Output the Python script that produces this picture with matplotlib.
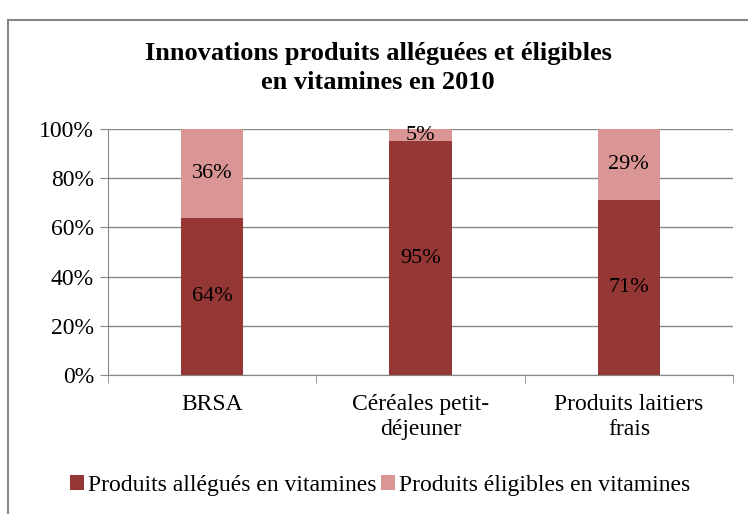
import matplotlib.pyplot as plt
from matplotlib.patches import Rectangle

categories = ["BRSA", "Céréales petit-\ndéjeuner", "Produits laitiers\nfrais"]
alleges = [64, 95, 71]
eligibles = [36, 5, 29]
series_names = ["Produits allégués en vitamines", "Produits éligibles en vitamines"]
title = "Innovations produits alléguées et éligibles\nen vitamines en 2010"

dark = "#953735"
light = "#D99694"
grid = "#878787"

plt.rcParams['font.family'] = ['Liberation Serif', 'DejaVu Serif']

fig = plt.figure(figsize=(7.48, 5.14), dpi=100)
fig.patches.append(Rectangle((8 / 748, -0.01), 1.0, 1 - 20 / 514 + 0.01,
                             transform=fig.transFigure, fill=False,
                             edgecolor="#868686", linewidth=1.5))

ax = fig.add_axes([108 / 748, 1 - 375 / 514, 625 / 748, 246 / 514])
x = list(range(len(categories)))
b1 = ax.bar(x, alleges, width=0.3, color=dark, label=series_names[0], zorder=3)
b2 = ax.bar(x, eligibles, width=0.3, bottom=alleges, color=light, label=series_names[1], zorder=3)

# etiquettes au milieu des segments
for i in x:
    ax.text(i, alleges[i] / 2, f"{alleges[i]}%", ha="center", va="center", fontsize=16, zorder=4)
    ax.text(i, alleges[i] + eligibles[i] / 2, f"{eligibles[i]}%", ha="center", va="center",
            fontsize=16, zorder=4)

ax.set_xlim(-0.5, 2.5)
ax.set_ylim(0, 100)
ax.set_yticks(range(0, 101, 20))
ax.set_yticklabels([f"{v}%" for v in range(0, 101, 20)], fontsize=17)
ax.set_xticks(x)
ax.set_xticklabels(categories, fontsize=17, linespacing=1.2)
ax.set_xticks([-0.5, 0.5, 1.5, 2.5], minor=True)
ax.tick_params(axis="x", which="major", length=0, pad=14)
ax.tick_params(axis="x", which="minor", length=6, color=grid)
ax.tick_params(axis="y", length=6, color=grid, pad=4)
ax.grid(axis="y", color=grid, linewidth=1, zorder=0)
for s in ["top", "right"]:
    ax.spines[s].set_visible(False)
for s in ["left", "bottom"]:
    ax.spines[s].set_color(grid)

fig.text(378 / 748, 1 - 68 / 514, title, ha="center", va="center", fontsize=19,
         fontweight="bold", linespacing=1.35)

fig.legend(handles=[b1, b2], loc="center", bbox_to_anchor=(380 / 748, 1 - 485 / 514),
           ncol=2, frameon=False, fontsize=17, handlelength=0.6, handleheight=0.6,
           handletextpad=0.15, columnspacing=0.2)

fig.savefig("out.png", dpi=100)
